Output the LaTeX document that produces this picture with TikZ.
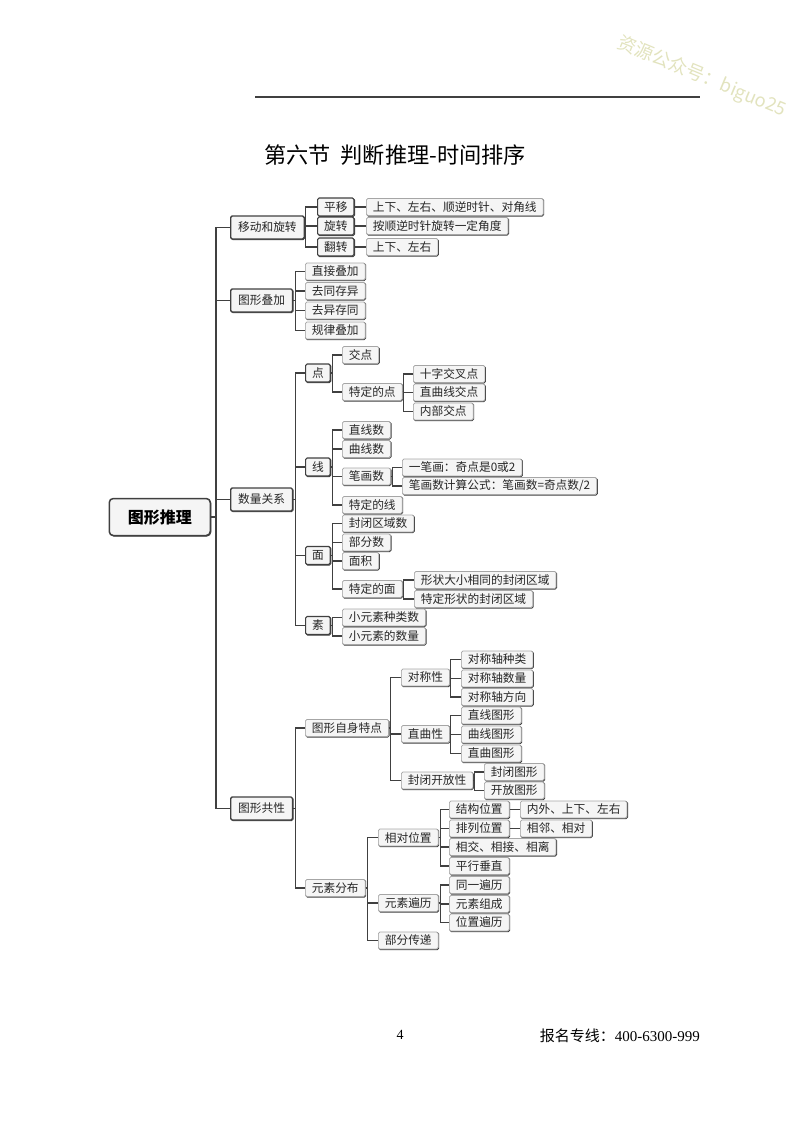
\documentclass[tikz,border=0pt]{standalone}
\usepackage{fontspec}
\setmainfont{Liberation Serif}
\newfontfamily\cjk{Noto Sans CJK SC}
\usetikzlibrary{positioning}
\definecolor{inkgray}{HTML}{404040}
\definecolor{boxfill}{HTML}{F5F5F5}
\definecolor{markcolor}{HTML}{E2E3BE}
\tikzset{
	leaf/.style={draw=gray!70,fill=boxfill,line width=0.7pt,rounded corners=1.5pt,anchor=west,
		preaction={draw=inkgray,line width=0.9pt,transform canvas={shift={(0.6pt,-0.6pt)}}},
		font=\cjk\fontsize{11.7}{14}\selectfont,text=black!85,inner xsep=6.5pt,inner ysep=0pt,minimum height=17pt},
	sub/.style={leaf,draw=inkgray,line width=1.1pt,minimum height=18pt},
	main/.style={leaf,draw=inkgray,line width=1.3pt,inner xsep=7.5pt,minimum height=23pt},
	link/.style={line width=1.1pt,draw=inkgray,to path={(\tikztostart.east) -- ++(#1,0) |- (\tikztotarget.west)}}
}
\begin{document}
\begin{tikzpicture}[x=1pt,y=-1pt]
		\useasboundingbox (0,0) rectangle (800,1124);
		\coordinate (ruleL) at (255,97);
		\coordinate (ruleR) at (700,97);
		\draw[inkgray,line width=1.1pt] (ruleL) -- (ruleR);
		\node[anchor=west,inner sep=0pt,font=\cjk\fontsize{22.2}{24}\selectfont] (title) at (264,155) {第六节\hspace{10pt}判断推理-时间排序};
		\node[rotate=-22.5,text=markcolor,inner sep=0pt,font=\cjk\fontsize{18.4}{20}\selectfont] (mark) at (702,77) {资源公众号：biguo25};
		\node[inner sep=0pt,font=\fontsize{14}{16}\selectfont] (page) at (400,1035) {4};
		\node[anchor=east,inner sep=0pt,font=\fontsize{15}{17}\selectfont] (hotline) at (700,1036) {{\cjk 报名专线：}400-6300-999};

		\node[main,line width=1.5pt,rounded corners=4pt,minimum width=101pt,minimum height=37pt,font=\cjk\bfseries\fontsize{16}{18}\selectfont,text=black] (root) at (108.5,517) {图形推理};

		\node[main] (move) at (230,227.5) {移动和旋转};
		\node[main] (stack) at (230,300.5) {图形叠加};
		\node[main] (count) at (230,499.5) {数量关系};
		\node[main] (common) at (230,808.5) {图形共性};

		\node[sub] (shift) at (317,207) {平移};
		\node[sub] (turn) at (317,226) {旋转};
		\node[sub] (flip) at (317,247) {翻转};
		\node[leaf] (shiftA) at (366,207) {上下、左右、顺逆时针、对角线};
		\node[leaf] (turnA) at (366,226) {按顺逆时针旋转一定角度};
		\node[leaf] (flipA) at (366,247) {上下、左右};

		\node[leaf] (stackA) at (305,271.5) {直接叠加};
		\node[leaf] (stackB) at (305,291) {去同存异};
		\node[leaf] (stackC) at (305,310.5) {去异存同};
		\node[leaf] (stackD) at (305,330.5) {规律叠加};

		\node[sub] (dot) at (305,373) {点};
		\node[leaf] (dotA) at (342,355) {交点};
		\node[leaf] (dotB) at (342,392) {特定的点};
		\node[leaf] (dotBa) at (413,374) {十字交叉点};
		\node[leaf] (dotBb) at (413,392.5) {直曲线交点};
		\node[leaf] (dotBc) at (413,411.5) {内部交点};

		\node[sub] (line) at (305,467) {线};
		\node[leaf] (lineA) at (342,430) {直线数};
		\node[leaf] (lineB) at (342,449) {曲线数};
		\node[leaf] (lineC) at (342,476.5) {笔画数};
		\node[leaf] (lineD) at (342,505) {特定的线};
		\node[leaf] (lineCa) at (402,467.5) {一笔画：奇点是0或2};
		\node[leaf] (lineCb) at (402,486) {笔画数计算公式：笔画数=奇点数/2};

		\node[sub] (face) at (305,555.5) {面};
		\node[leaf] (faceA) at (342,523.5) {封闭区域数};
		\node[leaf] (faceB) at (342,542.5) {部分数};
		\node[leaf] (faceC) at (342,561) {面积};
		\node[leaf] (faceD) at (342,589) {特定的面};
		\node[leaf] (faceDa) at (414,580) {形状大小相同的封闭区域};
		\node[leaf] (faceDb) at (414,599) {特定形状的封闭区域};

		\node[sub] (elem) at (305,625.5) {素};
		\node[leaf] (elemA) at (342,617.5) {小元素种类数};
		\node[leaf] (elemB) at (342,636) {小元素的数量};

		\node[leaf] (self) at (305,728) {图形自身特点};
		\node[leaf] (sym) at (401,677.5) {对称性};
		\node[leaf] (symA) at (461,659.5) {对称轴种类};
		\node[leaf] (symB) at (461,678.5) {对称轴数量};
		\node[leaf] (symC) at (461,697) {对称轴方向};
		\node[leaf] (curve) at (401,734) {直曲性};
		\node[leaf] (curveA) at (461,715.5) {直线图形};
		\node[leaf] (curveB) at (461,734.5) {曲线图形};
		\node[leaf] (curveC) at (461,753.5) {直曲图形};
		\node[leaf] (open) at (401,780.5) {封闭开放性};
		\node[leaf] (openA) at (484,772) {封闭图形};
		\node[leaf] (openB) at (484,790.5) {开放图形};

		\node[leaf] (spread) at (305,888) {元素分布};
		\node[leaf] (rel) at (378,837.5) {相对位置};
		\node[leaf] (relA) at (449,809.5) {结构位置};
		\node[leaf] (relAa) at (520,809.5) {内外、上下、左右};
		\node[leaf] (relB) at (449,828.5) {排列位置};
		\node[leaf] (relBa) at (520,828.5) {相邻、相对};
		\node[leaf] (relC) at (449,847) {相交、相接、相离};
		\node[leaf] (relD) at (449,866) {平行垂直};
		\node[leaf] (walk) at (378,903) {元素遍历};
		\node[leaf] (walkA) at (449,885) {同一遍历};
		\node[leaf] (walkB) at (449,904) {元素组成};
		\node[leaf] (walkC) at (449,922.5) {位置遍历};
		\node[leaf] (pass) at (378,940.5) {部分传递};

		\path[link=5] (root) edge (move) edge (stack) edge (count) edge (common);
		\path[link=1] (move) edge (shift) edge (turn) edge (flip);
		\path[link=6] (shift) edge (shiftA) (turn) edge (turnA) (flip) edge (flipA);
		\path[link=2] (stack) edge (stackA) edge (stackB) edge (stackC) edge (stackD)
		              (count) edge (dot) edge (line) edge (face) edge (elem)
		              (dot) edge (dotA) edge (dotB)
		              (line) edge (lineA) edge (lineB) edge (lineC) edge (lineD)
		              (lineC) edge (lineCa) edge (lineCb)
		              (face) edge (faceA) edge (faceB) edge (faceC) edge (faceD)
		              (elem) edge (elemA) edge (elemB)
		              (common) edge (self) edge (spread)
		              (self) edge (sym) edge (curve) edge (open)
		              (spread) edge (rel) edge (walk) edge (pass)
		              (rel) edge (relA) edge (relB) edge (relC) edge (relD)
		              (walk) edge (walkA) edge (walkB) edge (walkC);
		\path[link=1] (dotB) edge (dotBa) edge (dotBb) edge (dotBc)
		              (faceD) edge (faceDa) edge (faceDb)
		              (sym) edge (symA) edge (symB) edge (symC)
		              (curve) edge (curveA) edge (curveB) edge (curveC)
		              (open) edge (openA) edge (openB);
		\path[link=6] (relA) edge (relAa) (relB) edge (relBa);
	\end{tikzpicture}
\end{document}
